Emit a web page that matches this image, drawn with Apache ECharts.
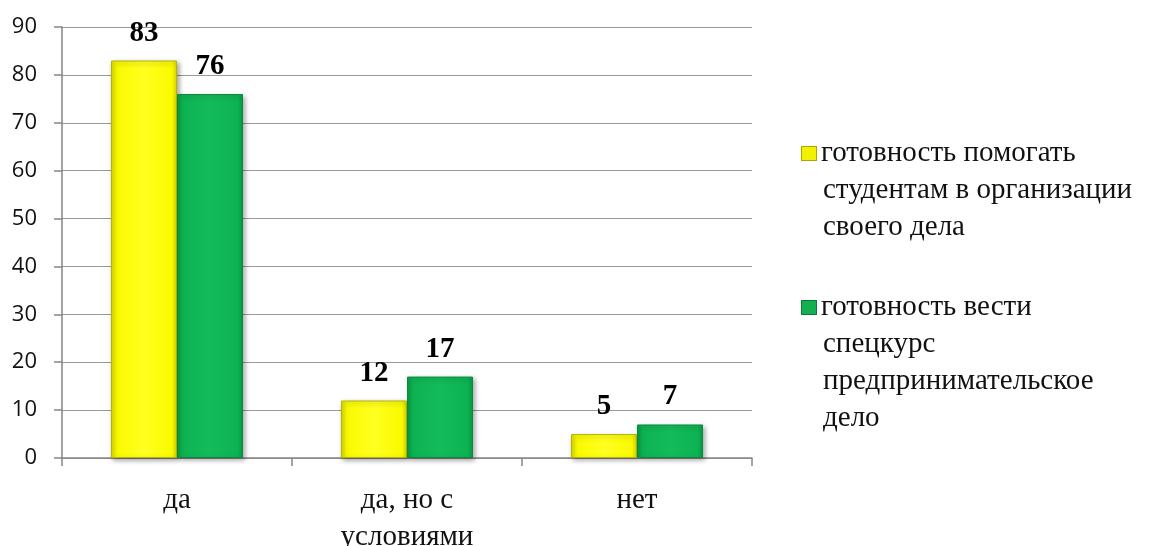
<!DOCTYPE html>
<html>
<head>
<meta charset="utf-8">
<script src="https://cdn.jsdelivr.net/npm/echarts@6/dist/echarts.min.js"></script>
<style>
  html, body { margin: 0; padding: 0; background: #fff; }
  #chart { width: 1162px; height: 546px; }
</style>
</head>
<body>
<div id="chart"></div>
<script>
const categories = ['да', 'да, но с\nусловиями', 'нет'];
const seriesNames = [
  'готовность помогать студентам в организации своего дела',
  'готовность вести спецкурс предпринимательское дело'
];
const helpValues = [83, 12, 5];
const courseValues = [76, 17, 7];
const legendLines = [
  ['готовность помогать', 'студентам в организации', 'своего дела'],
  ['готовность вести', 'спецкурс', 'предпринимательское', 'дело']
];
const yTicks = { min: 0, max: 90, interval: 10 };

const serif = 'Liberation Serif';
const sans = 'Open Sans';
const textColor = '#111111';

function bevel(edge, mid, light) {
  return new echarts.graphic.LinearGradient(0, 0, 1, 0, [
    { offset: 0, color: edge },
    { offset: 0.08, color: mid },
    { offset: 0.5, color: light },
    { offset: 0.92, color: mid },
    { offset: 1, color: edge }
  ]);
}

const chart = echarts.init(document.getElementById('chart'));
chart.setOption({
  animation: false,
  grid: { left: 62, top: 27, width: 690, height: 431, containLabel: false, outerBoundsMode: 'none' },
  legend: {
    orient: 'vertical',
    left: 797,
    top: 139,
    padding: 0,
    itemGap: 51,
    icon: 'none',
    itemWidth: 0,
    itemHeight: 14,
    data: seriesNames,
    formatter: function (name) {
      const idx = seriesNames.indexOf(name);
      return legendLines[idx].map(function (l, i) {
        return (i === 0 ? '{i' + idx + '|}' : '{s|}') + '{t|' + l + '}';
      }).join('\n');
    },
    textStyle: {
      fontFamily: serif,
      fontSize: 29,
      color: textColor,
      rich: {
        i0: { width: 14, height: 13, backgroundColor: '#F2F200', borderColor: '#A8A800', borderWidth: 1 },
        i1: { width: 14, height: 13, backgroundColor: '#12B050', borderColor: '#0A7A36', borderWidth: 1 },
        s: { width: 16 },
        t: { fontFamily: serif, fontSize: 29, lineHeight: 37, color: textColor, padding: [0, 0, 0, 5] }
      }
    }
  },
  xAxis: {
    type: 'category',
    data: categories,
    axisLine: { lineStyle: { color: '#868686', width: 1.5 } },
    axisTick: { show: true, length: 8, lineStyle: { color: '#868686', width: 1.5 } },
    axisLabel: { fontFamily: serif, fontSize: 29, lineHeight: 37, color: textColor, margin: 24 }
  },
  yAxis: {
    type: 'value',
    min: yTicks.min, max: yTicks.max, interval: yTicks.interval,
    axisLine: { show: true, lineStyle: { color: '#868686', width: 1.5 } },
    axisTick: { show: true, length: 8, lineStyle: { color: '#868686', width: 1.5 } },
    splitLine: { show: true, lineStyle: { color: '#9a9a9a', width: 1 } },
    axisLabel: { fontFamily: sans, fontSize: 22, color: textColor, margin: 25 }
  },
  series: [
    {
      name: seriesNames[0], type: 'bar', data: helpValues, barGap: '0%', barCategoryGap: '42.6%',
      itemStyle: {
        color: bevel('#D8D800', '#FAFA00', '#FFFF20'), borderColor: '#B5B500', borderWidth: 1,
        shadowColor: 'rgba(0,0,0,0.35)', shadowBlur: 5, shadowOffsetX: 2, shadowOffsetY: 2
      },
      label: { show: true, position: 'top', distance: 13, fontFamily: serif, fontSize: 29, fontWeight: 'bold', color: '#000' }
    },
    {
      name: seriesNames[1], type: 'bar', data: courseValues,
      itemStyle: {
        color: bevel('#079A45', '#0DB352', '#14BB5A'), borderColor: '#0A8A3E', borderWidth: 1,
        shadowColor: 'rgba(0,0,0,0.35)', shadowBlur: 5, shadowOffsetX: 2, shadowOffsetY: 2
      },
      label: { show: true, position: 'top', distance: 13, fontFamily: serif, fontSize: 29, fontWeight: 'bold', color: '#000' }
    }
  ]
});
</script>
</body>
</html>
